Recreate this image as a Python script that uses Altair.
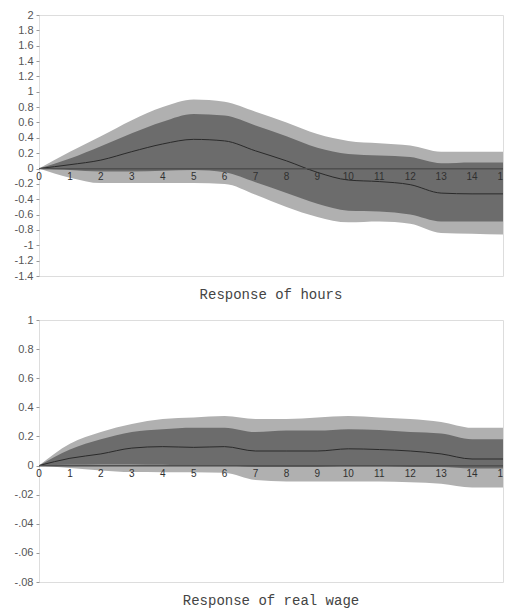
import altair as alt
import pandas as pd

# horizon (quarters)
steps = list(range(16))

# Response of hours
h_outer_lo = [0, -0.12, -0.19, -0.19, -0.19, -0.19, -0.20, -0.34, -0.50, -0.63, -0.70, -0.69, -0.72, -0.84, -0.85, -0.86]
h_inner_lo = [0, -0.02, -0.04, -0.04, -0.03, -0.02, -0.05, -0.18, -0.32, -0.46, -0.55, -0.56, -0.60, -0.69, -0.69, -0.69]
h_median   = [0, 0.05, 0.11, 0.22, 0.32, 0.38, 0.36, 0.23, 0.10, -0.05, -0.15, -0.17, -0.21, -0.32, -0.33, -0.33]
h_inner_hi = [0, 0.13, 0.29, 0.46, 0.61, 0.71, 0.69, 0.56, 0.42, 0.27, 0.19, 0.17, 0.15, 0.07, 0.08, 0.08]
h_outer_hi = [0, 0.22, 0.42, 0.63, 0.80, 0.90, 0.87, 0.74, 0.60, 0.45, 0.36, 0.33, 0.30, 0.22, 0.22, 0.22]

# Response of real wage (in the panel's axis units)
w_outer_lo = [0, -0.016, -0.034, -0.045, -0.046, -0.046, -0.05, -0.10, -0.11, -0.11, -0.11, -0.11, -0.115, -0.125, -0.15, -0.15]
w_inner_lo = [0, 0.005, 0.008, 0.008, 0.005, 0.0, 0.0, -0.01, -0.01, -0.01, -0.005, -0.005, -0.01, -0.01, -0.02, -0.02]
w_median   = [0, 0.05, 0.08, 0.12, 0.13, 0.125, 0.13, 0.10, 0.10, 0.10, 0.115, 0.11, 0.10, 0.08, 0.045, 0.045]
w_inner_hi = [0, 0.11, 0.18, 0.23, 0.25, 0.26, 0.26, 0.23, 0.24, 0.24, 0.25, 0.245, 0.23, 0.22, 0.18, 0.18]
w_outer_hi = [0, 0.15, 0.23, 0.285, 0.32, 0.33, 0.34, 0.32, 0.32, 0.33, 0.34, 0.33, 0.32, 0.30, 0.26, 0.26]

# tick labels
hours_ticks = [2, 1.8, 1.6, 1.4, 1.2, 1, 0.8, 0.6, 0.4, 0.2, 0, -0.2, -0.4, -0.6, -0.8, -1, -1.2, -1.4]
wage_ticks = [1, 0.8, 0.6, 0.4, 0.2, 0, -0.2, -0.4, -0.6, -0.8]

LIGHT = "#b0b0b0"
DARK = "#6c6c6c"
LINE = "#2a2a2a"


def panel(olo, ilo, med, ihi, ohi, domain, ticks, label_expr, title, height, title_offset):
    df = pd.DataFrame({"t": steps, "olo": olo, "ilo": ilo, "med": med, "ihi": ihi, "ohi": ohi,
                       "zero": [0] * len(steps)})
    xscale = alt.Scale(domain=[0, 15], nice=False, zero=False)
    yscale = alt.Scale(domain=domain, nice=False, zero=False)
    yaxis = alt.Axis(values=ticks, tickCount=len(ticks) + 2, title=None, labelExpr=label_expr,
                     grid=False, domain=False, tickSize=3, tickColor="#999999",
                     labelFont="Liberation Sans", labelFontSize=11,
                     labelColor="#555555", labelPadding=3, labelOverlap=False)
    base = alt.Chart(df)
    outer = base.mark_area(color=LIGHT, opacity=1, interpolate="monotone").encode(
        x=alt.X("t:Q", scale=xscale, axis=None),
        y=alt.Y("olo:Q", scale=yscale, axis=yaxis), y2="ohi:Q")
    inner = base.mark_area(color=DARK, opacity=1, interpolate="monotone").encode(
        x="t:Q", y="ilo:Q", y2="ihi:Q")
    line = base.mark_line(color=LINE, strokeWidth=1, interpolate="monotone").encode(
        x="t:Q", y="med:Q")
    rule = base.mark_rule(color="#505050", strokeWidth=1).encode(y="zero:Q")
    text_style = dict(dy=8, fontSize=10, font="Liberation Sans", color="#303030", baseline="middle")
    labels = base.mark_text(**text_style).encode(
        x="t:Q", y="zero:Q", text="t:Q").transform_filter("datum.t < 15")
    last_label = base.mark_text(clip=True, **text_style).encode(
        x="t:Q", y="zero:Q", text="t:Q").transform_filter("datum.t >= 15")
    return alt.layer(outer, inner, line, rule, labels, last_label).properties(
        width=464, height=height,
        title=alt.TitleParams(title, orient="bottom", font="Liberation Mono", fontSize=14,
                              fontWeight="normal", color="#444444", offset=title_offset))


top = panel(h_outer_lo, h_inner_lo, h_median, h_inner_hi, h_outer_hi, [-1.4, 2], hours_ticks,
            "'' + datum.value", "Response of hours", 261, 7)
bottom = panel(w_outer_lo, w_inner_lo, w_median, w_inner_hi, w_outer_hi, [-0.8, 1], wage_ticks,
               "datum.value < 0 ? '-.0' + round(-datum.value * 10) : '' + datum.value",
               "Response of real wage", 262, 7)

chart = alt.vconcat(top, bottom, spacing=10).properties(
    padding={"left": 5, "top": 0, "right": 0, "bottom": 0}
).configure_view(stroke="#bdbdbd", strokeWidth=2).configure_axis(
    labelOverlap=False).configure(background="white")

chart.save("out.html", embed_options={"renderer": "svg", "actions": False})
